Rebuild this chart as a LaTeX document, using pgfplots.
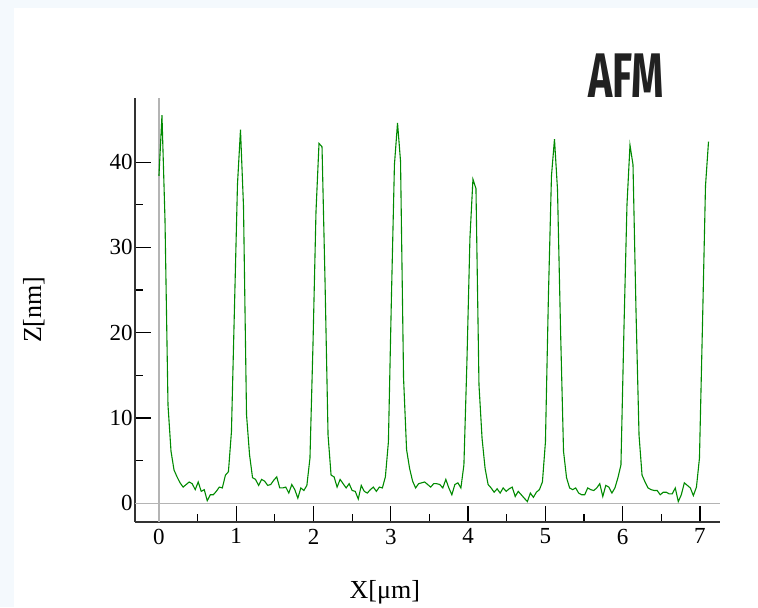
\documentclass[border=0pt]{standalone}
\usepackage{fontspec}
\setmainfont{Liberation Serif}
\newfontfamily\titlefont{Fira Sans}
\usepackage{graphicx}
\usepackage{pgfplots}
\pgfplotsset{compat=1.18}
\definecolor{bgpanel}{HTML}{F4F9FD}
\definecolor{afmgreen}{HTML}{008A00}
\definecolor{zerogray}{HTML}{B4B4B4}
\definecolor{axisink}{HTML}{333333}

\begin{document}
\begin{tikzpicture}
\useasboundingbox (0,0) rectangle (379pt,303.5pt);
\fill[bgpanel] (0,0) rectangle (379pt,303.5pt);
\fill[white] (7pt,0) rectangle (379pt,299.5pt);
\node[anchor=base, text=black!87, inner sep=0pt,
      font=\titlefont\bfseries\fontsize{31.5}{32}\selectfont]
  at (313pt,255pt) {\scalebox{0.652}[1]{AFM}};

\begin{axis}[
  at={(67.5pt,42.65pt)}, anchor=south west,
  scale only axis, width=292.5pt, height=212pt,
  xmin=-0.31, xmax=7.26, ymin=-2.16, ymax=47.56,
  axis x line=bottom, axis y line=left,
  axis line style={-, axisink, line width=0.9pt},
  xtick={0,...,7}, ytick={0,10,...,40},
  minor x tick num=1, minor y tick num=1,
  tick align=inside,
  major tick length=8pt, minor tick length=4pt,
  tick style={black, line width=0.6pt},
  ticklabel style={font=\fontsize{11.5}{13}\selectfont},
  /pgf/number format/assume math mode=true,
  yticklabel style={xshift=2.3pt},
  xlabel={X[μm]}, ylabel={Z[nm]},
  label style={font=\fontsize{13}{15}\selectfont},
  xlabel style={at={(axis description cs:0.427,-0.166)}, anchor=center},
  ylabel style={at={(axis description cs:-0.173,0.5)}, anchor=center},
]
  % zero lines
  \draw[zerogray, line width=0.6pt] (axis cs:0,-2.16) -- (axis cs:0,47.56);
  \draw[zerogray, line width=0.6pt] (axis cs:-0.31,0) -- (axis cs:7.26,0);

  % height profile
  \addplot[afmgreen, line width=0.55pt, mark=none] coordinates {
    (0.000,38.4) (0.039,45.5) (0.078,33.3) (0.117,11.5) (0.156,6.1)
    (0.195,3.9) (0.234,3.1) (0.273,2.4) (0.313,1.9) (0.352,2.2)
    (0.391,2.5) (0.430,2.3) (0.469,1.6) (0.508,2.5) (0.547,1.4)
    (0.586,1.6) (0.625,0.3) (0.664,1.0) (0.703,1.0) (0.742,1.4)
    (0.781,1.9) (0.820,1.8) (0.860,3.3) (0.899,3.7) (0.938,8.4)
    (0.977,22.9) (1.016,37.4) (1.055,43.8) (1.094,34.8) (1.133,10.4)
    (1.172,5.7) (1.211,3.0) (1.250,2.8) (1.289,2.1) (1.328,2.8)
    (1.367,2.6) (1.407,2.1) (1.446,2.2) (1.485,2.7) (1.524,3.1)
    (1.563,1.8) (1.602,1.8) (1.641,1.9) (1.680,1.2)
    (1.719,2.2) (1.758,1.6) (1.797,0.6) (1.836,1.8) (1.875,1.5)
    (1.914,2.1) (1.954,5.3) (1.993,18.6) (2.032,34.2) (2.071,42.2)
    (2.110,41.8) (2.149,26.0) (2.188,8.0) (2.227,3.3) (2.266,3.1)
    (2.305,1.9) (2.344,2.8) (2.383,2.3) (2.422,1.8) (2.461,2.3)
    (2.500,1.5) (2.540,1.4) (2.579,0.5) (2.618,2.1) (2.657,1.4)
    (2.696,1.2) (2.735,1.6) (2.774,1.9) (2.813,1.4) (2.852,1.9)
    (2.891,1.8) (2.930,3.1) (2.969,7.2) (3.008,24.1) (3.047,39.7)
    (3.087,44.6) (3.126,40.1) (3.165,14.7) (3.204,6.3) (3.243,4.1)
    (3.282,2.6) (3.321,1.8) (3.360,2.3) (3.399,2.4) (3.438,2.5)
    (3.477,2.2) (3.516,1.9) (3.555,2.3)
    (3.594,2.3) (3.634,2.2) (3.673,1.8) (3.712,2.8) (3.751,1.8)
    (3.790,1.0) (3.829,2.2) (3.868,2.4) (3.907,1.8) (3.946,4.5)
    (3.985,16.6) (4.024,31.1) (4.063,38.0) (4.102,36.9) (4.141,13.9)
    (4.181,7.6) (4.220,4.1) (4.259,2.2) (4.298,1.8) (4.337,1.3)
    (4.376,1.7) (4.415,1.2) (4.454,1.8) (4.493,1.4) (4.532,1.7)
    (4.571,1.9) (4.610,0.8) (4.649,1.4) (4.688,1.0) (4.727,0.6)
    (4.767,0.2) (4.806,1.2) (4.845,0.7) (4.884,1.3) (4.923,1.6)
    (4.962,2.5) (5.001,7.2) (5.040,24.5) (5.079,38.4) (5.118,42.7)
    (5.157,36.8) (5.196,20.5) (5.235,6.1) (5.274,3.0) (5.314,1.8)
    (5.353,1.6) (5.392,1.8) (5.431,1.2)
    (5.470,1.0) (5.509,1.0) (5.548,1.8) (5.587,1.6) (5.626,1.5)
    (5.665,1.8) (5.704,2.3) (5.743,0.8) (5.782,2.1) (5.821,1.9)
    (5.861,1.2) (5.900,1.8) (5.939,3.0) (5.978,4.5) (6.017,20.5)
    (6.056,35.0) (6.095,42.0) (6.134,39.7) (6.173,22.5) (6.212,8.0)
    (6.251,3.3) (6.290,2.5) (6.329,1.8) (6.368,1.6) (6.408,1.5)
    (6.447,1.5) (6.486,1.0) (6.525,1.3) (6.564,1.3) (6.603,1.1)
    (6.642,1.1) (6.681,1.8) (6.720,0.2) (6.759,1.0) (6.798,2.4)
    (6.837,2.1) (6.876,1.8) (6.915,0.9) (6.955,1.9) (6.994,5.3)
    (7.033,20.9) (7.072,37.2) (7.111,42.4)
  };
\end{axis}
\end{tikzpicture}
\end{document}
